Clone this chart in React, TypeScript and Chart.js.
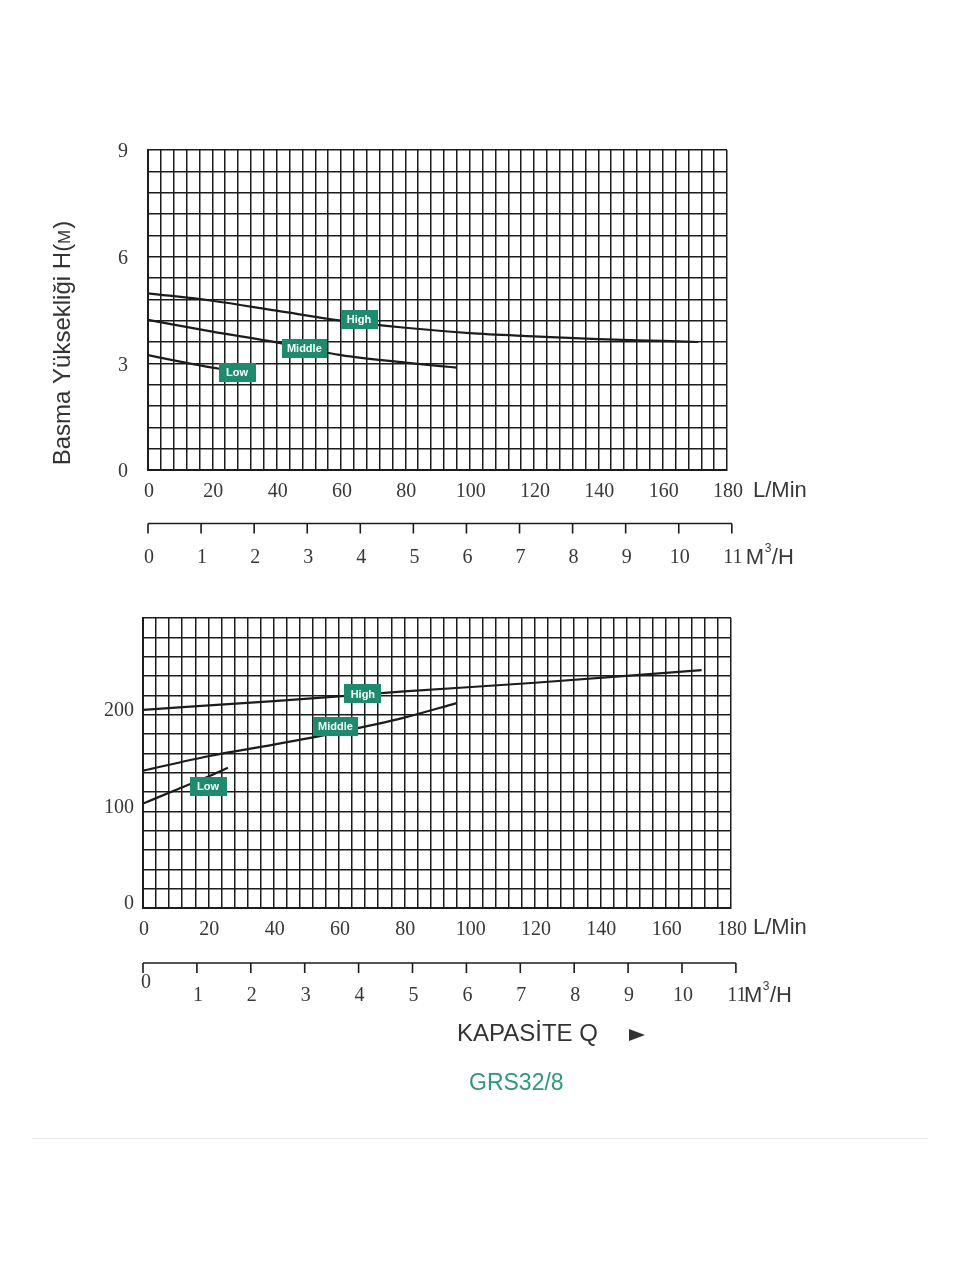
import React, { useEffect, useRef } from "react";
import { Chart, registerables } from "chart.js";

Chart.register(...registerables);

// ---------------- data ----------------
const flowTickLabels = [0, 20, 40, 60, 80, 100, 120, 140, 160, 180];
const headTickLabels = [0, 3, 6, 9];
const powerTickLabels = [0, 100, 200];
const m3hTickLabels = [0, 1, 2, 3, 4, 5, 6, 7, 8, 9, 10, 11];

const headHighFlow = [0, 20, 40, 60, 80, 100, 120, 140, 160, 171];
const headHighValues = [4.97, 4.76, 4.48, 4.2, 4.0, 3.85, 3.76, 3.68, 3.63, 3.6];
const headMiddleFlow = [0, 20, 40, 60, 80, 90, 96];
const headMiddleValues = [4.22, 3.89, 3.59, 3.23, 3.02, 2.93, 2.88];
const headLowFlow = [0, 10, 20, 24];
const headLowValues = [3.23, 3.05, 2.88, 2.82];

const powerHighFlow = [0, 40, 80, 120, 171];
const powerHighValues = [205, 214, 224, 233, 246];
const powerMiddleFlow = [0, 20, 40, 60, 80, 96];
const powerMiddleValues = [142, 157, 169, 182, 197, 212];
const powerLowFlow = [0, 10, 20, 26];
const powerLowValues = [108, 122, 136, 145];

const seriesNames = ["High", "Middle", "Low"];
const headTagFlow = [65.6, 48.6, 27.7];
const headTagValue = [4.23, 3.42, 2.73];
const powerTagFlow = [67.3, 58.9, 19.9];
const powerTagValue = [221.4, 187.8, 125.7];

const yAxisTitle = "Basma Yüksekliği H(";
const yAxisUnit = "M";
const capacityTitle = "KAPASİTE Q";
const modelName = "GRS32/8";
const flowUnit = "L/Min";
const M3H_IN_LPM = 16.5;

// ---------------- styles ----------------
const SERIF = '"Liberation Serif", "Times New Roman", serif';
const SANS = '"Liberation Sans", Arial, sans-serif';
const INK = "#1c1c1c";
const TEXT = "#383838";
const TEAL = "#1b8c6e";
const GREEN_TEXT = "#2a9a78";

function buildTicks(min: number, max: number, step: number) {
  return (scale: any) => {
    const n = Math.round((max - min) / step);
    const t: any[] = [];
    for (let i = 0; i <= n; i++) t.push({ value: Math.round((min + i * step) * 1e6) / 1e6 });
    scale.ticks = t;
  };
}
function labelFilter(list: number[]) {
  return (v: any) => (list.includes(Math.round(Number(v) * 1e6) / 1e6) ? String(v) : "");
}
function series(flow: number[], vals: number[]) {
  return flow.map((q, i) => ({ x: q, y: vals[i] }));
}

function drawTag(ctx: CanvasRenderingContext2D, cx: number, cy: number, text: string) {
  ctx.font = `bold 11px ${SANS}`;
  const w = Math.max(ctx.measureText(text).width + 10, 37);
  const h = 19;
  ctx.fillStyle = TEAL;
  ctx.fillRect(Math.round(cx - w / 2), Math.round(cy - h / 2), Math.round(w), h);
  ctx.fillStyle = "#ffffff";
  ctx.textAlign = "center";
  ctx.textBaseline = "middle";
  ctx.fillText(text, cx, cy + 0.5);
}

function decorPlugin(p: any) {
  return {
    id: "decor",
    afterDraw(chart: any) {
      const ctx: CanvasRenderingContext2D = chart.ctx;
      const xs = chart.scales.x;
      const ys = chart.scales.y;
      const area = chart.chartArea;
      const bottom = area.bottom;
      ctx.save();
      // series tags
      seriesNames.forEach((name, i) => {
        drawTag(ctx, xs.getPixelForValue(p.tagFlow[i]), ys.getPixelForValue(p.tagValue[i]), name);
      });
      // L/Min
      ctx.fillStyle = TEXT;
      ctx.font = `22px ${SANS}`;
      ctx.textAlign = "left";
      ctx.textBaseline = "middle";
      ctx.fillText(flowUnit, area.right + p.lminDx, bottom + p.lminDy);

      // M3/H secondary axis
      const y0 = bottom + p.m3LineDy;
      const pxs = m3hTickLabels.map((m) => xs.getPixelForValue(m * M3H_IN_LPM));
      ctx.strokeStyle = INK;
      ctx.lineWidth = 1.6;
      ctx.beginPath();
      ctx.moveTo(pxs[0], y0);
      ctx.lineTo(pxs[pxs.length - 1], y0);
      pxs.forEach((px) => {
        ctx.moveTo(px, y0);
        ctx.lineTo(px, y0 + 10);
      });
      ctx.stroke();
      ctx.font = `20px ${SERIF}`;
      ctx.textAlign = "center";
      ctx.fillStyle = TEXT;
      const yl = y0 + p.m3LabelDy;
      m3hTickLabels.forEach((m, i) => {
        if (i === 0 && p.zeroRaised) ctx.fillText(String(m), pxs[i] + 3, y0 + 20);
        else ctx.fillText(String(m), pxs[i] + 1, yl);
      });
      const pxEnd = pxs[pxs.length - 1] + p.unitDx;
      ctx.textAlign = "left";
      ctx.font = `22px ${SANS}`;
      ctx.fillText("M", pxEnd, yl);
      const mw = ctx.measureText("M").width;
      ctx.font = `12px ${SANS}`;
      ctx.fillText("3", pxEnd + mw + 0.5, yl - 9);
      const tw = ctx.measureText("3").width;
      ctx.font = `22px ${SANS}`;
      ctx.fillText("/H", pxEnd + mw + tw + 1, yl);

      if (p.withTitle) {
        ctx.save();
        ctx.translate(63, 343);
        ctx.rotate(-Math.PI / 2);
        ctx.fillStyle = "#333";
        ctx.textBaseline = "middle";
        ctx.textAlign = "left";
        ctx.font = `24px ${SANS}`;
        const w1 = ctx.measureText(yAxisTitle).width;
        ctx.font = `17px ${SANS}`;
        const w2 = ctx.measureText(yAxisUnit).width;
        ctx.font = `24px ${SANS}`;
        const w3 = ctx.measureText(")").width;
        let x = -(w1 + w2 + w3 + 1) / 2;
        ctx.fillText(yAxisTitle, x, 0);
        x += w1;
        ctx.font = `17px ${SANS}`;
        ctx.fillText(yAxisUnit, x, 2);
        x += w2 + 1;
        ctx.font = `24px ${SANS}`;
        ctx.fillText(")", x, 0);
        ctx.restore();
      }

      if (p.withFooter) {
        ctx.fillStyle = "#333";
        ctx.font = `24px ${SANS}`;
        ctx.textAlign = "left";
        ctx.textBaseline = "middle";
        ctx.fillText(capacityTitle, 457, bottom + 126);
        ctx.beginPath();
        ctx.moveTo(629, bottom + 121);
        ctx.lineTo(629, bottom + 133);
        ctx.lineTo(645, bottom + 127);
        ctx.closePath();
        ctx.fill();
        ctx.fillStyle = GREEN_TEXT;
        ctx.font = `23px ${SANS}`;
        ctx.fillText(modelName, 469, bottom + 176);
      }
      ctx.restore();
    },
  };
}

function makeConfig(p: any) {
  return {
    type: "line",
    data: {
      datasets: p.series.map((s: any) => ({
        data: s,
        borderColor: INK,
        borderWidth: 2.2,
        pointRadius: 0,
        tension: 0.4,
        cubicInterpolationMode: "monotone",
        fill: false,
      })),
    },
    options: {
      responsive: false,
      animation: false,
      events: [],
      layout: { padding: p.padding },
      plugins: { legend: { display: false }, tooltip: { enabled: false } },
      scales: {
        x: {
          type: "linear",
          min: 0,
          max: 180,
          afterBuildTicks: buildTicks(0, 180, 4),
          afterFit: (s: any) => {
            s.height = 40;
          },
          grid: { color: INK, lineWidth: 1.5, drawTicks: false },
          border: { color: INK, width: 2 },
          ticks: {
            autoSkip: false,
            maxRotation: 0,
            minRotation: 0,
            padding: 10,
            labelOffset: 1,
            color: TEXT,
            font: { family: SERIF, size: 20 },
            callback: labelFilter(flowTickLabels),
          },
        },
        y: {
          type: "linear",
          min: 0,
          max: p.yMax,
          afterBuildTicks: buildTicks(0, p.yMax, p.yStep),
          afterFit: (s: any) => {
            s.width = p.yWidth;
          },
          grid: { color: INK, lineWidth: 1.5, drawTicks: false },
          border: { color: INK, width: 2 },
          ticks: {
            autoSkip: false,
            padding: p.yPad,
            labelOffset: p.yLabelOffset,
            color: TEXT,
            font: { family: SERIF, size: 20 },
            callback: labelFilter(p.yLabels),
          },
        },
      },
    },
    plugins: [decorPlugin(p)],
  };
}

const topParams = {
  series: [
    series(headHighFlow, headHighValues),
    series(headMiddleFlow, headMiddleValues),
    series(headLowFlow, headLowValues),
  ],
  padding: { left: 0, right: 233, top: 150, bottom: 80 },
  yMax: 9,
  yStep: 0.6,
  yWidth: 148,
  yPad: 20,
  yLabelOffset: 2,
  yLabels: headTickLabels,
  tagFlow: headTagFlow,
  tagValue: headTagValue,
  lminDx: 26,
  lminDy: 21,
  m3LineDy: 53.5,
  m3LabelDy: 34,
  unitDx: 14,
  zeroRaised: false,
  withTitle: true,
  withFooter: false,
};

const bottomParams = {
  series: [
    series(powerHighFlow, powerHighValues),
    series(powerMiddleFlow, powerMiddleValues),
    series(powerLowFlow, powerLowValues),
  ],
  padding: { left: 0, right: 229, top: 28, bottom: 332 },
  yMax: 300,
  yStep: 20,
  yWidth: 143,
  yPad: 9,
  yLabelOffset: -4,
  yLabels: powerTickLabels,
  tagFlow: powerTagFlow,
  tagValue: powerTagValue,
  lminDx: 22,
  lminDy: 20,
  m3LineDy: 55,
  m3LabelDy: 33,
  unitDx: 8,
  zeroRaised: true,
  withTitle: false,
  withFooter: true,
};

function ChartCanvas({ params, top, height }: { params: any; top: number; height: number }) {
  const ref = useRef<HTMLCanvasElement | null>(null);
  useEffect(() => {
    if (!ref.current) return;
    const chart = new Chart(ref.current, makeConfig(params) as any);
    return () => chart.destroy();
  }, [params]);
  return (
    <canvas
      ref={ref}
      width={960}
      height={height}
      style={{ position: "absolute", left: 0, top, width: 960, height, display: "block" }}
    />
  );
}

export default function App() {
  return (
    <div style={{ position: "absolute", left: 0, top: 0, width: 960, height: 1280, background: "#ffffff", overflow: "hidden" }}>
      <ChartCanvas params={topParams} top={0} height={590} />
      <ChartCanvas params={bottomParams} top={590} height={690} />
      <div style={{ position: "absolute", left: 32, top: 1138, width: 896, height: 1, background: "#e6e6e6" }} />
    </div>
  );
}
